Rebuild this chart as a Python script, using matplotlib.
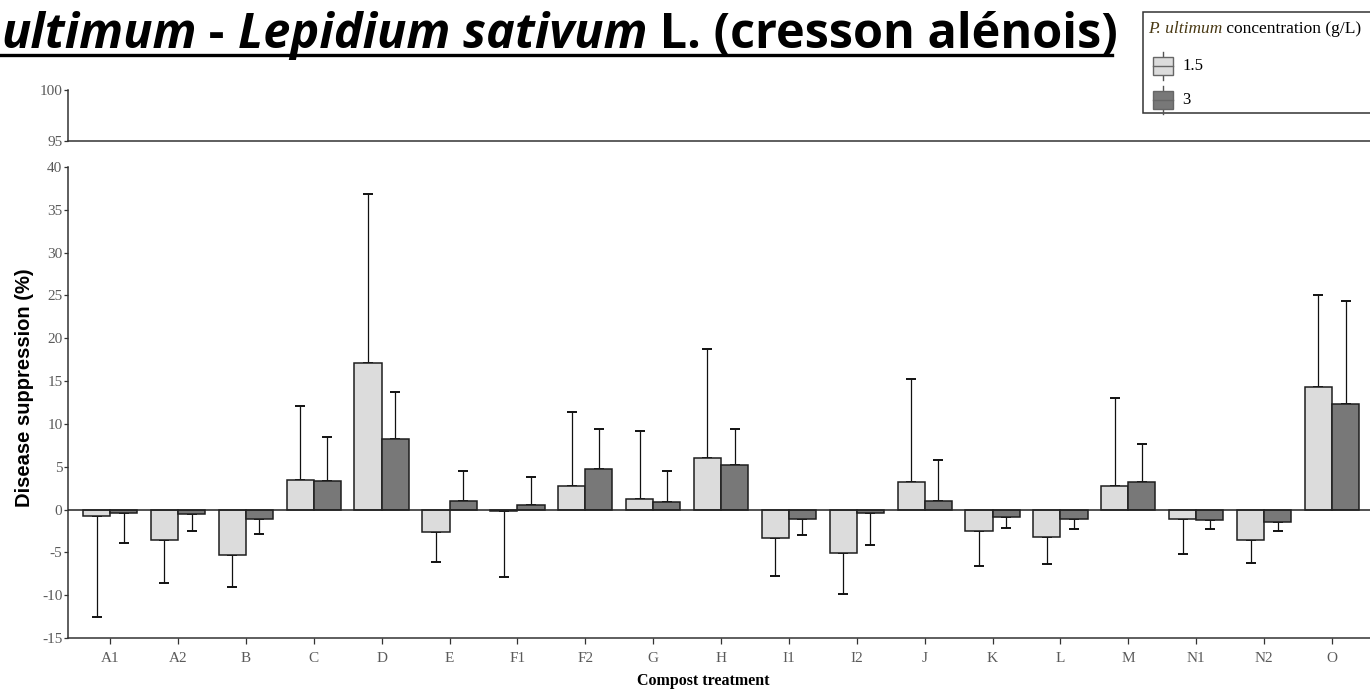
import matplotlib
matplotlib.use("Agg")
import matplotlib.pyplot as plt
from matplotlib.patches import Rectangle
from matplotlib.lines import Line2D
from matplotlib.text import Annotation
import numpy as np

plt.rcParams["axes.unicode_minus"] = False

W, H = 1370, 690

treatments = ["A1", "A2", "B", "C", "D", "E", "F1", "F2", "G", "H",
              "I1", "I2", "J", "K", "L", "M", "N1", "N2", "O"]
# disease suppression (%) at 1.5 g/L and 3 g/L of P. ultimum
supp_15 = [-0.8, -3.5, -5.3, 3.5, 17.1, -2.65, -0.2, 2.8, 1.25, 6.0,
           -3.35, -5.1, 3.2, -2.5, -3.2, 2.8, -1.1, -3.55, 14.3]
supp_3 = [-0.4, -0.55, -1.1, 3.35, 8.25, 1.05, 0.55, 4.75, 0.9, 5.15,
          -1.1, -0.4, 1.05, -0.9, -1.1, 3.2, -1.25, -1.45, 12.3]
sd_15 = [11.8, 5.1, 3.7, 8.6, 19.8, 3.5, 7.7, 8.6, 7.9, 12.7,
         4.45, 4.8, 12.1, 4.05, 3.2, 10.2, 4.05, 2.65, 10.7]
sd_3 = [3.5, 1.9, 1.75, 5.15, 5.45, 3.5, 3.3, 4.6, 3.65, 4.2,
        1.9, 3.7, 4.75, 1.2, 1.2, 4.4, 1.05, 1.0, 12.0]

light = "#dcdcdc"
dark = "#787878"
tick_col = "#5a5a5a"


def fx(px):
    return px / W


def fy(py):
    return 1 - py / H


fig = plt.figure(figsize=(W / 100, H / 100), dpi=100)

# main panel
ax = fig.add_axes([fx(68), fy(638), fx(1370 - 68), (638 - 167) / H])
# broken-axis top panel
axt = fig.add_axes([fx(68), fy(141), fx(1370 - 68), (141 - 90) / H])

x = np.arange(len(treatments))
bw = 0.4


def one_sided(vals, sds):
    lo = [s if v < 0 else 0 for v, s in zip(vals, sds)]
    hi = [s if v >= 0 else 0 for v, s in zip(vals, sds)]
    return [lo, hi]


ax.bar(x - bw / 2, supp_15, bw, color=light, edgecolor="#1e1e1e", linewidth=1.1, zorder=3)
ax.bar(x + bw / 2, supp_3, bw, color=dark, edgecolor="#1e1e1e", linewidth=1.1, zorder=3)
ax.errorbar(x - bw / 2, supp_15, yerr=one_sided(supp_15, sd_15), fmt="none",
            ecolor="#111111", elinewidth=0.9, capsize=3.5, capthick=1.4, zorder=2)
ax.errorbar(x + bw / 2, supp_3, yerr=one_sided(supp_3, sd_3), fmt="none",
            ecolor="#111111", elinewidth=0.9, capsize=3.5, capthick=1.4, zorder=2)
ax.axhline(0, color="#222222", linewidth=1.1, zorder=4)

ax.set_xlim(-0.62, 18.56)
ax.set_ylim(-15, 40)
ax.set_yticks(range(-15, 41, 5))
ax.set_xticks(x)
ax.set_xticklabels(treatments)

for a in (ax, axt):
    for s in ("top", "right"):
        a.spines[s].set_visible(False)
    for s in ("left", "bottom"):
        a.spines[s].set_color("#333333")
        a.spines[s].set_linewidth(1.1)
    a.tick_params(axis="y", length=3, width=0.9, color="#333333", labelcolor=tick_col,
                  labelsize=11, pad=1)
    for lab in a.get_yticklabels():
        lab.set_family("Liberation Serif")

ax.tick_params(axis="x", length=4, width=0.9, color="#333333", labelcolor=tick_col,
               labelsize=11, pad=6)
for lab in ax.get_xticklabels():
    lab.set_family("Liberation Serif")

axt.set_xlim(ax.get_xlim())
axt.set_ylim(95, 100)
axt.set_yticks([95, 100])
axt.set_yticklabels(["95", "100"], family="Liberation Serif")
axt.set_xticks([])

fig.text(fx(24), fy(388), "Disease suppression (%)", rotation=90, ha="center", va="center",
         fontsize=14.5, fontweight="bold", family="Liberation Sans")
fig.text(fx(703), fy(681), "Compost treatment", ha="center", va="center",
         fontsize=11.5, fontweight="bold", family="Liberation Serif")

# slide title (starts at the left edge, as in the source slide)
pieces = [("ultimum", "italic"), (" - ", "normal"),
          ("Lepidium sativum", "italic"), (" L. (cresson alénois)", "normal")]
prev = fig.text(fx(1), fy(48), pieces[0][0], ha="left", va="baseline",
                fontsize=35, fontweight="bold", style=pieces[0][1], family="Open Sans")
for txt, st in pieces[1:]:
    prev = fig.add_artist(Annotation(txt, xy=(1, 0), xycoords=prev, ha="left", va="bottom",
                                     fontsize=35, fontweight="bold", style=st,
                                     family="Open Sans"))
fig.add_artist(Line2D([0, fx(1112)], [fy(55), fy(55)], color="black", linewidth=2.4))

# legend drawn by hand (box-plot style keys)
fig.add_artist(Rectangle((fx(1143), fy(113)), fx(240), (113 - 12) / H, facecolor="white",
                         edgecolor="#333333", linewidth=1.1, clip_on=False, zorder=1))
t1 = fig.text(fx(1148), fy(29), "P. ultimum", style="italic", color="#4a3a14",
              fontsize=12.5, family="Liberation Serif", va="center", ha="left", zorder=5)
fig.add_artist(Annotation(" concentration (g/L)", xy=(1, 0), xycoords=t1, va="bottom",
                          ha="left", fontsize=12.5, family="Liberation Serif",
                          color="black", zorder=5))
for yc, col, lab in [(66, light, "1.5"), (100, dark, "3")]:
    fig.add_artist(Line2D([fx(1163), fx(1163)], [fy(yc - 14), fy(yc + 14)],
                          color="#555555", linewidth=1.0, zorder=2))
    fig.add_artist(Rectangle((fx(1153), fy(yc + 9)), fx(20), 18 / H, facecolor=col,
                             edgecolor="#666666", linewidth=1.0, zorder=3))
    fig.add_artist(Line2D([fx(1153), fx(1173)], [fy(yc), fy(yc)], color="#666666",
                          linewidth=1.0, zorder=4))
    fig.text(fx(1182), fy(yc), lab, fontsize=12, family="Liberation Serif",
             va="center", ha="left", zorder=5)

fig.savefig("out.png", dpi=100)
